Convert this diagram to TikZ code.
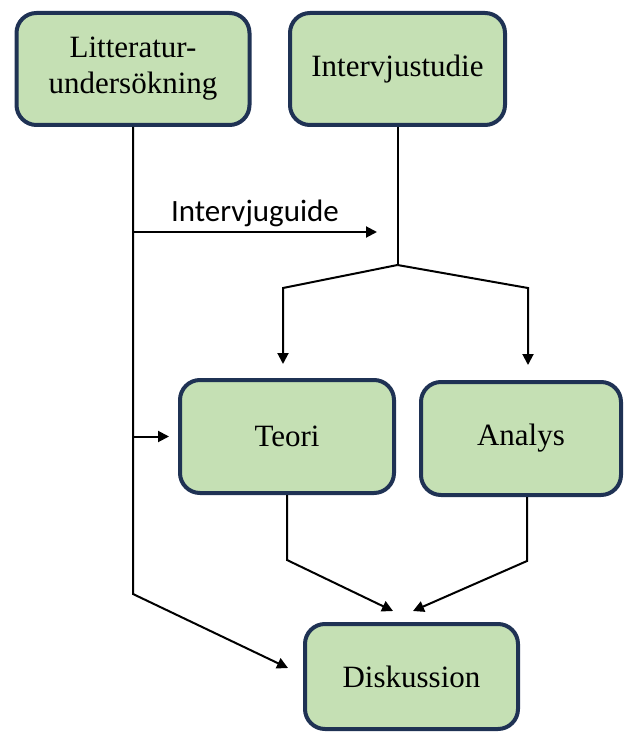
\documentclass[tikz,border=0pt]{standalone}
\usepackage{fontspec}
\setmainfont{Liberation Serif}
\newfontfamily\guidefont{Carlito}
\usetikzlibrary{arrows.meta,positioning}
\definecolor{boxfill}{RGB}{197,224,180}
\definecolor{boxline}{RGB}{31,50,84}

\begin{document}
\begin{tikzpicture}[x=0.5pt,y=-0.5pt,
  box/.style={draw=boxline, fill=boxfill, line width=2pt, rounded corners=10pt,
    align=center, minimum height=56pt, font=\fontsize{15.5}{18}\selectfont},
  conn/.style={line width=1pt},
  arr/.style={conn, -{Triangle[length=5.5pt,width=5.5pt]}}]
  \useasboundingbox (0,0) rectangle (625,733);

  \node[box, minimum width=116.5pt] (lit) at (133,69) {Litteratur-\\undersökning};
  \node[box, minimum width=107.5pt] (iv) at (397.5,69) {Intervjustudie};
  \node[box, minimum width=107pt, minimum height=56.5pt] (teori) at (287,436.5) {Teori};
  \node[box, minimum width=100pt, minimum height=56.5pt] (analys) at (521,438.5) {Analys};
  \node[box, minimum width=106.5pt, minimum height=52.5pt] (disk) at (411.5,676.5) {Diskussion};

  \coordinate (guideend) at (377,232);
  \coordinate (litbend) at (133,594);
  \coordinate (diskin) at (288,668);
  \coordinate (split) at (397.5,265);
  \coordinate (kL) at (283,288);
  \coordinate (kR) at (528,288);
  \coordinate (tbend) at (287,560);
  \coordinate (tin) at (393,611);
  \coordinate (abend) at (527,561);
  \coordinate (ain) at (413,611);

  \draw[arr] (lit.south) -- (litbend) -- (diskin);
  \draw[arr] (lit.south |- guideend) -- (guideend)
    node[midway, above, inner sep=2pt, font=\guidefont\fontsize{15.5}{18}\selectfont] {Intervjuguide};
  \draw[arr, shorten >=4.5pt] (lit.south |- teori.west) -- (teori.west);

  \draw[conn] (iv.south) -- (split);
  \draw[arr, shorten >=7pt] (split) -- (kL) -- (kL |- teori.north);
  \draw[arr, shorten >=7.5pt] (split) -- (kR) -- (kR |- analys.north);

  \draw[arr] (teori.south) -- (tbend) -- (tin);
  \draw[arr] (analys.south -| abend) -- (abend) -- (ain);
\end{tikzpicture}
\end{document}
